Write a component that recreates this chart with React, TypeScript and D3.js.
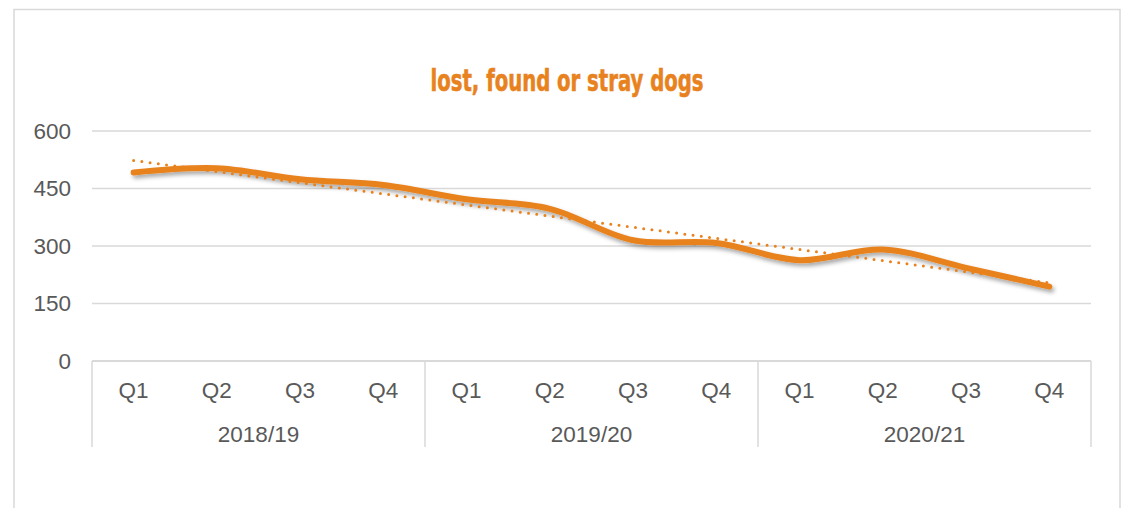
import React from 'react';
import * as d3 from 'd3';

const years = ['2018/19', '2019/20', '2020/21'];
const quarters = ['Q1', 'Q2', 'Q3', 'Q4'];
const dogs = [492, 503, 474, 459, 422, 397, 315, 308, 263, 291, 243, 194];
const yTicks = [0, 150, 300, 450, 600];

const ORANGE = '#E8821E';
const GRID = '#d9d9d9';
const TEXT = '#595959';

const App = () => {
  const width = 1128;
  const height = 508;
  const left = 92;
  const right = 1091;
  const top = 131;
  const bottom = 361;

  const keys = years.flatMap(y => quarters.map(q => `${y} ${q}`));

  const x = d3.scaleBand<string>()
    .domain(keys)
    .range([left, right])
    .padding(0);

  const y = d3.scaleLinear()
    .domain([0, 600])
    .range([bottom, top]);

  const cx = (i: number) => (x(keys[i]) as number) + x.bandwidth() / 2;

  const line = d3.line<number>()
    .x((d, i) => cx(i))
    .y(d => y(d))
    .curve(d3.curveCatmullRom.alpha(0.5));

  // linear trend, as Excel draws it
  const idx = dogs.map((d, i) => i);
  const mx = d3.mean(idx) as number;
  const my = d3.mean(dogs) as number;
  const slope = d3.sum(idx, i => (i - mx) * (dogs[i] - my)) / d3.sum(idx, i => (i - mx) ** 2);
  const icpt = my - slope * mx;
  const n = dogs.length - 1;

  const groupEdges = years.map((yr, g) => x(keys[g * quarters.length]) as number).concat([right]);

  return (
    <svg width={width} height={height} style={{ position: 'fixed', left: 0, top: 0, background: '#fff' }}
      fontFamily="'Liberation Sans', Arial, sans-serif">
      <defs>
        <filter id="shadow" x="-10%" y="-50%" width="120%" height="200%">
          <feDropShadow dx="2" dy="3" stdDeviation="2" floodColor="#000" floodOpacity="0.35" />
        </filter>
      </defs>
      <rect x={14} y={9.5} width={1106} height={520} fill="#fff" stroke={GRID} strokeWidth={1.5} />

      <text x={567} y={91} textAnchor="middle" fill={ORANGE} stroke={ORANGE} strokeWidth={0.6}
        fontSize={31} fontWeight="bold"
        fontFamily="'Liberation Sans Narrow', 'DejaVu Sans Condensed', sans-serif"
        textLength={273} lengthAdjust="spacingAndGlyphs">lost, found or stray dogs</text>

      {yTicks.map(t => (
        <g key={t}>
          {t > 0 && <line x1={left} x2={right} y1={y(t)} y2={y(t)} stroke={GRID} strokeWidth={1.5} />}
          <text x={71} y={y(t)} dy="0.35em" textAnchor="end" fill={TEXT} fontSize={22.5}>{t}</text>
        </g>
      ))}

      <line x1={left} x2={right} y1={bottom} y2={bottom} stroke={GRID} strokeWidth={2} />
      {groupEdges.map((gx, i) => (
        <line key={i} x1={gx} x2={gx} y1={bottom} y2={447} stroke={GRID} strokeWidth={1.5} />
      ))}

      {keys.map((k, i) => (
        <text key={k} x={cx(i)} y={398} textAnchor="middle" fill={TEXT} fontSize={22.5}>
          {quarters[i % quarters.length]}
        </text>
      ))}
      {years.map((yr, g) => (
        <text key={yr} x={(groupEdges[g] + groupEdges[g + 1]) / 2} y={441.5} textAnchor="middle" fill={TEXT} fontSize={22.5}>
          {yr}
        </text>
      ))}

      <path d={line(dogs) as string} fill="none" stroke={ORANGE} strokeWidth={6}
        strokeLinecap="round" strokeLinejoin="round" filter="url(#shadow)" />
      <line x1={cx(0)} y1={y(icpt)} x2={cx(n)} y2={y(icpt + slope * n)}
        stroke={ORANGE} strokeWidth={3} strokeLinecap="round" strokeDasharray="0 8.3" />
    </svg>
  );
};

export default App;
